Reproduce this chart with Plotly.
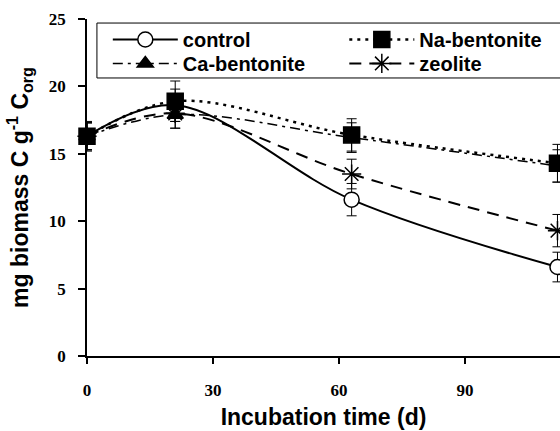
import plotly.graph_objects as go

days = [0, 21, 63, 112]

control = [16.3, 18.6, 11.6, 6.6]
control_err = [1.0, 1.2, 1.2, 1.1]

na_bentonite = [16.3, 18.9, 16.4, 14.3]
na_err = [1.1, 1.5, 1.2, 1.4]

ca_bentonite = [16.3, 17.9, 16.2, 14.1]
ca_err = [1.0, 1.0, 1.1, 1.2]

zeolite = [16.3, 18.0, 13.5, 9.3]
zeolite_err = [1.0, 1.1, 1.1, 1.2]

x_ticks = [0, 30, 60, 90]
y_ticks = [0, 5, 10, 15, 20, 25]

SANS = "Liberation Sans"
SERIF = "Liberation Serif"

fig = go.Figure()


def add(name, y, err, dash, width, symbol, size, fill, legend):
    fig.add_trace(go.Scatter(
        x=days, y=y, name=name, mode="lines+markers",
        line=dict(color="black", width=width, dash=dash, shape="spline", smoothing=1.0),
        marker=dict(symbol=symbol, size=size, color=fill,
                    line=dict(color="black", width=1.5)),
        error_y=dict(type="data", array=err, visible=True, color="black",
                     thickness=1, width=5),
        legend=legend, cliponaxis=False,
    ))


add("control", control, control_err, "solid", 2, "circle", 15, "white", "legend")
add("zeolite", zeolite, zeolite_err, "12px,8px", 2, "asterisk-open", 16, "black", "legend4")
add("Ca-bentonite", ca_bentonite, ca_err, "10px,5px,3px,5px", 1.5, "triangle-up", 14, "black", "legend3")
add("Na-bentonite", na_bentonite, na_err, "3px,5px", 2.5, "square", 16, "black", "legend2")

leg_common = dict(
    orientation="v", yanchor="top", xanchor="left",
    bgcolor="rgba(0,0,0,0)", borderwidth=0,
    font=dict(family=SANS, size=20, color="black", weight="bold"),
    itemwidth=65, tracegroupgap=0, itemsizing="trace",
)

fig.update_layout(
    width=560, height=431,
    margin=dict(l=87, r=0, t=19, b=75),
    paper_bgcolor="white", plot_bgcolor="white",
    showlegend=True,
    legend=dict(x=0.044, y=0.997, **leg_common),
    legend2=dict(x=0.544, y=0.997, **leg_common),
    legend3=dict(x=0.044, y=0.926, **leg_common),
    legend4=dict(x=0.544, y=0.926, **leg_common),
    xaxis=dict(
        range=[0, 112.6], tickvals=x_ticks, ticktext=[str(v) for v in x_ticks],
        showgrid=False, zeroline=False, showline=True, linecolor="black", linewidth=1.5,
        ticks="outside", ticklen=6, tickwidth=1.5, tickcolor="black",
        ticklabelstandoff=12,
        tickfont=dict(family=SERIF, size=17, color="black", weight="bold"),
        title=dict(text="Incubation time (d)", standoff=10,
                   font=dict(family=SANS, size=23, color="black", weight="bold")),
    ),
    yaxis=dict(
        range=[0, 25], tickvals=y_ticks, ticktext=[str(v) for v in y_ticks],
        showgrid=False, zeroline=False, showline=True, linecolor="black", linewidth=1.5,
        ticks="outside", ticklen=7, tickwidth=1.5, tickcolor="black",
        ticklabelstandoff=9,
        tickfont=dict(family=SERIF, size=17, color="black", weight="bold"),
        title=dict(text="mg biomass C g<sup>-1</sup> C<sub>org</sub>", standoff=14,
                   font=dict(family=SANS, size=23, color="black", weight="bold")),
    ),
    shapes=[dict(type="rect", xref="paper", yref="paper",
                 x0=0.021, x1=1.05, y0=0.825, y1=0.988,
                 line=dict(color="black", width=1), layer="below")],
)

fig.write_html("out.html", config={"displayModeBar": False},
               post_script="document.body.style.margin='0';")
